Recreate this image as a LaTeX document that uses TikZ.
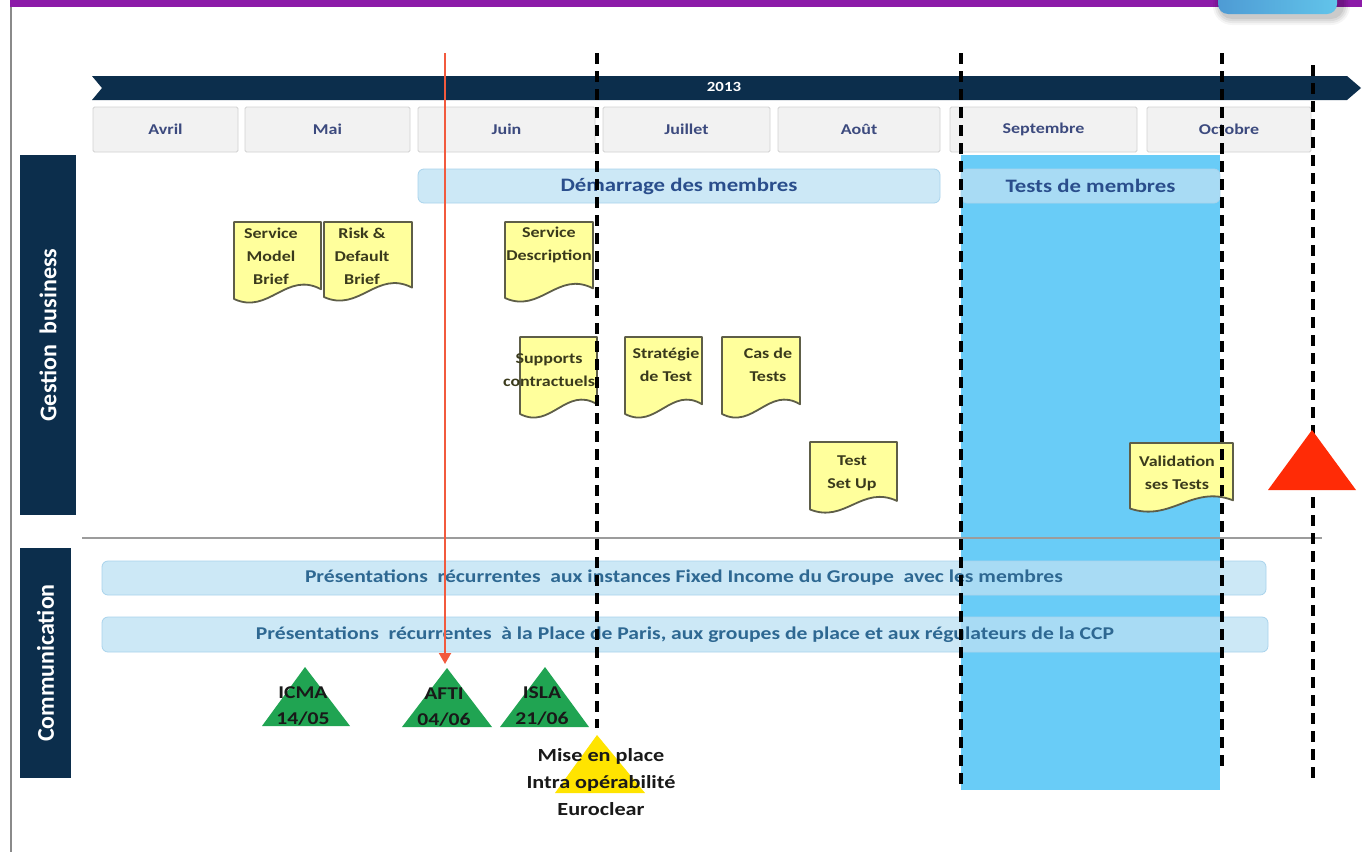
\documentclass[tikz,border=0pt]{standalone}
\usepackage{fontspec}
\setmainfont{Carlito}[FakeStretch=1.2]
\newfontfamily\labelfont{Carlito}
\usetikzlibrary{arrows.meta}

\definecolor{navy}{HTML}{0C2E4C}
\definecolor{purpleband}{HTML}{8C1BA8}
\definecolor{framegray}{HTML}{8A8A8A}
\definecolor{sepgray}{HTML}{9C9C9C}
\definecolor{monthfill}{HTML}{F2F2F2}
\definecolor{monthline}{HTML}{D2D2D2}
\definecolor{monthtext}{HTML}{3C4A7E}
\definecolor{barfill}{RGB}{188,225,244}
\definecolor{barline}{HTML}{A9D3EC}
\definecolor{bartext}{HTML}{2A4E8C}
\definecolor{commtext}{HTML}{2E6892}
\definecolor{testblue}{HTML}{69CCF7}
\definecolor{docfill}{HTML}{FFFF9C}
\definecolor{docline}{HTML}{5E5E48}
\definecolor{doctext}{HTML}{3A3A1C}
\definecolor{milegreen}{HTML}{20A452}
\definecolor{mileyellow}{HTML}{FFE400}
\definecolor{milered}{HTML}{FF2B06}
\definecolor{todayred}{HTML}{F25A3E}
\definecolor{tabblueA}{HTML}{4E9BD4}
\definecolor{tabblueB}{HTML}{62C4EA}

\tikzset{
  monthbox/.style={draw=monthline, fill=monthfill, line width=0.8pt, rounded corners=1.5pt,
    minimum height=45pt, inner sep=0pt, text=monthtext, font=\bfseries\fontsize{15}{18}\selectfont},
  phasebar/.style={draw=barline, line width=0.8pt, fill=barfill, fill opacity=0.76, text opacity=1,
    rounded corners=6pt, minimum height=34pt, inner sep=0pt, text=bartext,
    font=\bfseries\fontsize{19}{22}\selectfont},
  commbar/.style={phasebar, text=commtext, font=\bfseries\fontsize{18}{22}\selectfont},
  sidebox/.style={fill=navy, text=white, rotate=90, inner sep=0pt,
    font=\labelfont\bfseries\fontsize{24}{28}\selectfont},
  docshape/.style={fill=docfill, draw=docline, line width=1.8pt, line join=round},
  doclabel/.style={align=center, inner sep=0pt, text=doctext, font=\bfseries\fontsize{15}{23}\selectfont},
  milelabel/.style={align=center, inner sep=0pt, text=black!90, font=\bfseries\fontsize{18}{26}\selectfont},
  phaseline/.style={draw=black, line width=3.2pt, dash pattern=on 11pt off 7pt},
  todayline/.style={draw=todayred, line width=2pt, -{Triangle[width=12pt,length=11pt]}},
}

% document symbol with a wavy lower edge: x1, top, x2, bottom
\newcommand\docpath[4]{%
  \pgfmathsetmacro\docW{#3-#1}%
  \pgfmathsetmacro\docH{#4-#2}%
  \draw[docshape] (#1,#2) -- (#3,#2) -- (#3,{#4-0.17*\docH})
    .. controls ({#1+0.6*\docW},{#4-0.4*\docH}) and ({#1+0.4*\docW},{#4+0.15*\docH}) ..
    (#1,{#4-0.05*\docH}) -- cycle;}

\begin{document}
\begin{tikzpicture}[x=1pt,y=-1pt]
\useasboundingbox (0,0) rectangle (1362,852);
\fill[white] (0,0) rectangle (1362,852);

% page frame
\fill[purpleband] (10,0) rectangle (1362,7);
\draw[framegray, line width=1.5pt] (11,7) -- (11,852);
\foreach \s/\o in {9/0.04, 7/0.05, 5/0.06, 3/0.07}
  \fill[black, opacity=\o, rounded corners=10pt+\s] (1218-\s+4,-14) rectangle (1337+\s+4,14+\s+2);
\shade[left color=tabblueA, right color=tabblueB, rounded corners=10pt] (1218,-14) rectangle (1337,14);

% test window
\fill[testblue] (961,155) rectangle (1220,790);

% year bar
\fill[navy] (92,76) -- (1347,76) -- (1361,88) -- (1347,100) -- (92,100) -- (102,88) -- cycle;
\node[font=\bfseries\fontsize{14}{16}\selectfont, text=white] (year) at (724,87) {2013};

% months
\node[monthbox, minimum width=145pt] (avril) at (165.5,129.5) {Avril};
\node[monthbox, minimum width=165pt] (mai) at (327.5,129.5) {Mai};
\node[monthbox, minimum width=177pt] (juin) at (506.5,129.5) {Juin};
\node[monthbox, minimum width=167pt] (juillet) at (686.5,129.5) {Juillet};
\node[monthbox, minimum width=162pt] (aout) at (859,129.5) {Août};
\node[monthbox, minimum width=187pt] (sept) at (1043.5,129.5) {Septembre};
\node[monthbox, minimum width=164pt] (oct) at (1229,129.5) {Octobre};

% lanes
\node[sidebox, minimum width=360pt, minimum height=56pt] (gestion) at (48,335) {Gestion\hspace{0.45em}business};
\node[sidebox, minimum width=230pt, minimum height=51pt] (comm) at (45.5,663) {Communication};
\draw[sepgray, line width=1.6pt] (82,538) -- (1322,538);

% phase bars
\node[phasebar, minimum width=522pt] (demarrage) at (679,186) {Démarrage des membres};
\node[phasebar, minimum width=259pt] (tests) at (1090.5,186) {Tests de membres};
\node[commbar, minimum width=1164pt] (instances) at (684,578)
  {Présentations\ \ récurrentes\ \ aux instances Fixed Income du Groupe\ \ avec les membres};
\node[commbar, minimum width=1166pt, minimum height=35pt] (place) at (685,634.5)
  {Présentations\ \ récurrentes\ \ à la Place de Paris, aux groupes de place et aux régulateurs de la CCP};

% deliverables
\docpath{234}{222}{321}{303}
\node[doclabel] (smb) at (271,256) {Service\\Model\\Brief};
\docpath{324}{222}{412}{301}
\node[doclabel] (rdb) at (362,256) {Risk \&\\Default\\Brief};
\docpath{505}{222}{593}{302}
\node[doclabel] (sdesc) at (549,245) {Service\\Description};
\docpath{520}{337}{597}{418}
\node[doclabel] (supp) at (549,370) {Supports\\contractuels};
\docpath{625}{337}{702}{418}
\node[doclabel] (strat) at (666,365) {Stratégie\\de Test};
\docpath{722}{337}{800}{418}
\node[doclabel] (cas) at (768,365) {Cas de\\Tests};
\docpath{810}{442}{897}{513}
\node[doclabel] (setup) at (852,473) {Test\\Set Up};
\docpath{1130}{443}{1233}{512}
\node[doclabel] (valid) at (1177,473) {Validation\\ses Tests};

% phase limits
\coordinate (p1top) at (597,53);  \coordinate (p1bot) at (597,728);
\coordinate (p2top) at (961,53);  \coordinate (p2bot) at (961,790);
\coordinate (p3top) at (1222,53); \coordinate (p3bot) at (1222,768);
\coordinate (p4top) at (1313,65); \coordinate (p4bot) at (1313,780);
\draw[phaseline] (p1top) -- (p1bot);
\draw[phaseline] (p2top) -- (p2bot);
\draw[phaseline] (p3top) -- (p3bot);
\draw[phaseline] (p4top) -- (p4bot);

% today marker
\coordinate (todaytop) at (445,53);
\coordinate (todayend) at (445,664);
\draw[todayline] (todaytop) -- (todayend);

% milestones
\fill[milered] (1312,430) -- (1356,490) -- (1268,490) -- cycle;
\fill[milegreen] (305,667) -- (350,726) -- (262,726) -- cycle;
\node[milelabel] (icma) at (303,706) {ICMA\\14/05};
\fill[milegreen] (447,668) -- (492,727) -- (402,727) -- cycle;
\node[milelabel] (afti) at (444,707) {AFTI\\04/06};
\fill[milegreen] (545,667) -- (589,727) -- (500,727) -- cycle;
\node[milelabel] (isla) at (542,706) {ISLA\\21/06};
\fill[mileyellow] (597,735) -- (645,793) -- (555,793) -- cycle;
\node[milelabel, font=\bfseries\fontsize{18.5}{27}\selectfont] (euroclear) at (601,782)
  {Mise en place\\Intra opérabilité\\Euroclear};
\end{tikzpicture}
\end{document}
